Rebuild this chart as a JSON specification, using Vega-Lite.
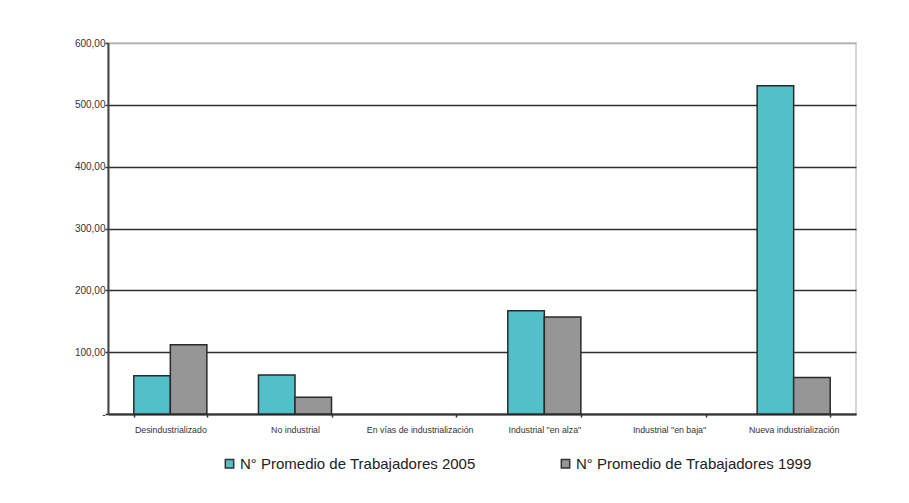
{
  "$schema": "https://vega.github.io/schema/vega-lite/v6.json",
  "width": 748,
  "height": 371,
  "autosize": {"type": "none"},
  "padding": {"left": 108, "top": 43, "right": 53, "bottom": 89},
  "background": "white",
  "config": {
    "font": "Liberation Sans",
    "view": {"stroke": "#c8c8c8", "strokeWidth": 1.5}
  },
  "data": {
    "values": [
      {"cat": "Desindustrializado", "serie": "N° Promedio de Trabajadores 2005", "v": 62},
      {"cat": "Desindustrializado", "serie": "N° Promedio de Trabajadores 1999", "v": 112},
      {"cat": "No industrial", "serie": "N° Promedio de Trabajadores 2005", "v": 63},
      {"cat": "No industrial", "serie": "N° Promedio de Trabajadores 1999", "v": 27},
      {"cat": "En vías de industrialización", "serie": "N° Promedio de Trabajadores 2005", "v": null},
      {"cat": "En vías de industrialización", "serie": "N° Promedio de Trabajadores 1999", "v": null},
      {"cat": "Industrial \"en alza\"", "serie": "N° Promedio de Trabajadores 2005", "v": 167},
      {"cat": "Industrial \"en alza\"", "serie": "N° Promedio de Trabajadores 1999", "v": 157},
      {"cat": "Industrial \"en baja\"", "serie": "N° Promedio de Trabajadores 2005", "v": null},
      {"cat": "Industrial \"en baja\"", "serie": "N° Promedio de Trabajadores 1999", "v": null},
      {"cat": "Nueva industrialización", "serie": "N° Promedio de Trabajadores 2005", "v": 531},
      {"cat": "Nueva industrialización", "serie": "N° Promedio de Trabajadores 1999", "v": 59}
    ]
  },
  "mark": {"type": "bar", "stroke": "#2a2a2a", "strokeWidth": 1.5},
  "encoding": {
    "x": {
      "field": "cat",
      "type": "nominal",
      "sort": null,
      "scale": {
        "domain": ["Desindustrializado", "No industrial", "En vías de industrialización", "Industrial \"en alza\"", "Industrial \"en baja\"", "Nueva industrialización"],
        "paddingInner": 0.414, "paddingOuter": 0.207
      },
      "axis": {
        "title": null,
        "labelAngle": 0,
        "labelFontSize": 8.8,
        "labelColor": "#333",
        "labelPadding": 8,
        "labelLimit": 0,
        "tickBand": "extent",
        "tickSize": 3,
        "tickColor": "#333",
        "tickWidth": 1.5,
        "domainColor": "#333",
        "domainWidth": 2
      }
    },
    "xOffset": {
      "field": "serie",
      "type": "nominal",
      "sort": ["N° Promedio de Trabajadores 2005", "N° Promedio de Trabajadores 1999"],
      "scale": {"paddingInner": 0, "paddingOuter": 0}
    },
    "y": {
      "field": "v",
      "type": "quantitative",
      "scale": {"domain": [0, 600], "nice": false},
      "axis": {
        "title": null,
        "values": [0, 100, 200, 300, 400, 500, 600],
        "labelExpr": "datum.value == 0 ? '-' : replace(format(datum.value, '.2f'), '.', ',')",
        "labelFontSize": 10,
        "labelColor": "#333",
        "labelPadding": 0,
        "tickSize": 3,
        "tickColor": "#333",
        "tickWidth": 1.5,
        "domainColor": "#444",
        "domainWidth": 2,
        "grid": true,
        "gridColor": {"condition": {"test": "datum.value == 600", "value": "#b0b0b0"}, "value": "#2e2e2e"},
        "gridWidth": 1.5
      }
    },
    "color": {
      "field": "serie",
      "type": "nominal",
      "sort": ["N° Promedio de Trabajadores 2005", "N° Promedio de Trabajadores 1999"],
      "scale": {"range": ["#52c0c9", "#969696"]},
      "legend": {
        "title": null,
        "orient": "none",
        "direction": "horizontal",
        "legendX": 114,
        "legendY": 413,
        "symbolType": "square",
        "symbolSize": 70,
        "symbolStrokeColor": "#333",
        "symbolStrokeWidth": 1.5,
        "labelFontSize": 15,
        "labelLimit": 0,
        "labelColor": "#222",
        "labelOffset": 3,
        "columnPadding": 82
      }
    }
  }
}
